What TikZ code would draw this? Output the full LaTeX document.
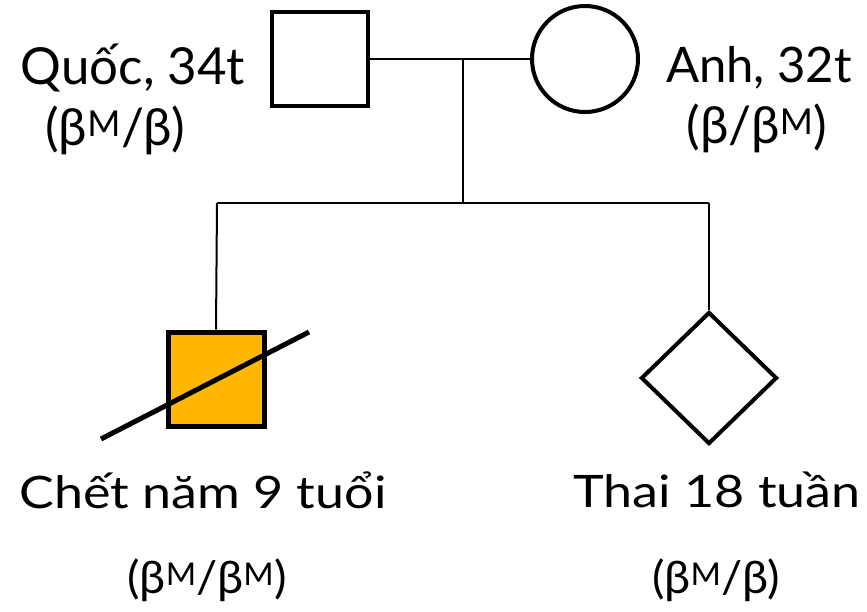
\documentclass[tikz,border=0pt]{standalone}
\usepackage{fontspec}
\setmainfont{Lato}
\usetikzlibrary{shapes.geometric}
\begin{document}
\begin{tikzpicture}[x=1pt,y=-1pt,
  person/.style={draw=black,line width=4pt,fill=white,inner sep=0pt},
  male/.style={person,rectangle,minimum width=96pt,minimum height=94pt},
  female/.style={person,circle,minimum size=106pt},
  unknown/.style={person,diamond,minimum width=136pt,minimum height=132pt},
  affected/.style={fill=affectorange},
  link/.style={line width=2pt},
  lbl/.style={font=\fontsize{51}{56}\selectfont,inner sep=0pt},
  sublbl/.style={lbl,font=\fontsize{52}{56}\selectfont,yscale=0.86},
  subgeno/.style={sublbl,xscale=0.9}]
\definecolor{affectorange}{HTML}{FFB700}
\useasboundingbox (0,0) rectangle (867,611);
% parents
\node[male] (father) at (320,59) {};
\node[female] (mother) at (585,59) {};
% children
\node[male,affected,line width=5pt] (son) at (216,379) {};
\node[unknown] (fetus) at (709,378) {};
% mating and sibship lines
\coordinate (mid) at (463,59);
\coordinate (sibL) at (217,203);
\coordinate (sibC) at (463,203);
\coordinate (sibR) at (709,203);
\draw[link] (father.east) -- (mother.west);
\draw[link] (mid) -- (sibC);
\draw[link] (sibL) -- (sibR);
\draw[link] (sibL) -- (son.north);
\draw[link] (sibR) -- (fetus.north);
% deceased mark
\coordinate (dA) at (101,439);
\coordinate (dB) at (309,332);
\draw[line width=5pt] (dA) -- (dB);
% labels
\node[lbl] (qname) at (133,68) {Quốc, 34t};
\node[lbl] (qgeno) at (115,130) {(β\textsuperscript{M}/β)};
\node[lbl,font=\fontsize{49}{54}\selectfont] (aname) at (759,68) {Anh, 32t};
\node[lbl] (ageno) at (757,128) {(β/β\textsuperscript{M})};
\node[sublbl] (sname) at (203,490) {Chết năm 9 tuổi};
\node[subgeno] (sgeno) at (207,580) {(β\textsuperscript{M}/β\textsuperscript{M})};
\node[sublbl] (fname) at (717,490) {Thai 18 tuần};
\node[subgeno] (fgeno) at (716,580) {(β\textsuperscript{M}/β)};
\end{tikzpicture}
\end{document}
